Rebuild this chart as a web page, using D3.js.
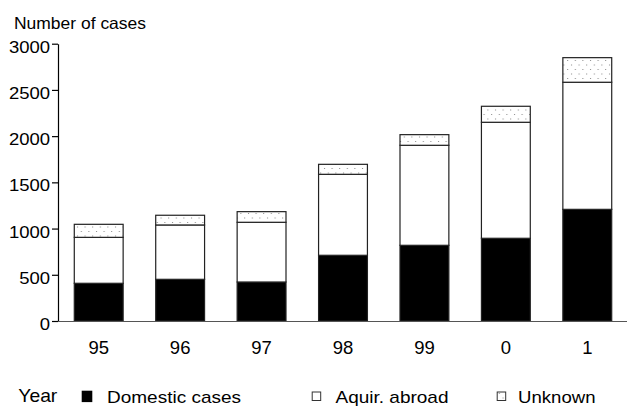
<!DOCTYPE html>
<html><head><meta charset="utf-8">
<script src="https://cdn.jsdelivr.net/npm/d3@7"></script>
<style>body{margin:0;background:#fff}svg{display:block}text{font-family:"Liberation Sans",Arial,sans-serif;fill:#000}</style>
</head><body>
<svg id="chart" width="627" height="407"></svg>
<script>
const years = ["95","96","97","98","99","0","1"];
const domestic = [408, 451, 422, 711, 819, 895, 1208];
const abroad = [497, 588, 646, 876, 1082, 1255, 1375];
const unknown = [141, 105, 115, 108, 115, 173, 266];
const yTicks = [0, 500, 1000, 1500, 2000, 2500, 3000];
const seriesKeys = ["domestic", "abroad", "unknown"];
const seriesNames = ["Domestic cases", "Aquir. abroad", "Unknown"];

const rows = years.map((y, i) => ({year: y, domestic: domestic[i], abroad: abroad[i], unknown: unknown[i]}));
const svg = d3.select("#chart");

const defs = svg.append("defs");
const pat = defs.append("pattern").attr("id", "dots").attr("patternUnits", "userSpaceOnUse")
  .attr("width", 7.6).attr("height", 9);
pat.append("rect").attr("width", 7.6).attr("height", 9).attr("fill", "#fff");
pat.append("rect").attr("x", 1).attr("y", 1.5).attr("width", 1).attr("height", 1).attr("fill", "#888");
pat.append("rect").attr("x", 4.8).attr("y", 6).attr("width", 1).attr("height", 1).attr("fill", "#888");

const fills = {domestic: "#000", abroad: "#fff", unknown: "url(#dots)"};

const x = d3.scaleBand().domain(years).range([58, 628]).paddingInner(0.4).paddingOuter(0.2);
const y = d3.scaleLinear().domain([0, 3000]).range([321, 43.7]);

const stacked = d3.stack().keys(seriesKeys)(rows);

svg.append("g").selectAll("g").data(stacked).join("g")
  .attr("fill", d => fills[d.key])
  .selectAll("rect").data(d => d).join("rect")
  .attr("x", d => x(d.data.year))
  .attr("width", x.bandwidth())
  .attr("y", d => y(d[1]))
  .attr("height", d => y(d[0]) - y(d[1]))
  .attr("stroke", "#222").attr("stroke-width", 1.2);

// x axis
const xa = svg.append("g").attr("transform", "translate(0,321)")
  .call(d3.axisBottom(x).tickSize(0).tickPadding(20));
xa.select(".domain").attr("stroke", "#555").attr("stroke-width", 1.2);
xa.selectAll("text").attr("font-size", 18.5).attr("font-family", "Liberation Sans, Arial, sans-serif").attr("fill", "#000");

// y axis
const ya = svg.append("g").attr("transform", "translate(58,0)")
  .call(d3.axisLeft(y).tickValues(yTicks).tickSize(6).tickSizeOuter(0).tickPadding(2).tickFormat(d3.format("d")));
ya.select(".domain").attr("stroke", "#000").attr("stroke-width", 1.2);
ya.selectAll(".tick line").attr("stroke", "#000").attr("stroke-width", 1.2);
ya.selectAll("text").attr("font-size", 16.5).attr("font-family", "Liberation Sans, Arial, sans-serif")
  .attr("fill", "#000").attr("dy", "0.52em")
  .each(function(){ const w = this.getComputedTextLength(); d3.select(this).attr("textLength", w*1.12).attr("lengthAdjust","spacingAndGlyphs"); });

// title
svg.append("text").attr("x", 14).attr("y", 29).attr("font-size", 16.5)
  .attr("textLength", 132).attr("lengthAdjust", "spacingAndGlyphs").text("Number of cases");

// legend
svg.append("text").attr("x", 18.3).attr("y", 401.5).attr("font-size", 18.5)
  .attr("textLength", 39).attr("lengthAdjust", "spacingAndGlyphs").text("Year");

const legendX = [81.7, 311.7, 496.7];
const legendTextX = [107, 335.5, 518];
const legendTextW = [134, 113, 77.5];
const leg = svg.append("g");
seriesKeys.forEach((k, i) => {
  if (k === "domestic") {
    leg.append("rect").attr("x", legendX[i]).attr("y", 390.7).attr("width", 10.6).attr("height", 11.4).attr("fill", "#000");
  } else {
    leg.append("rect").attr("x", legendX[i] + 0.5).attr("y", 392).attr("width", 8.5).attr("height", 8.5)
      .attr("fill", k === "unknown" ? "url(#dots)" : "#fff").attr("stroke", "#333").attr("stroke-width", 1);
  }
  leg.append("text").attr("x", legendTextX[i]).attr("y", 403).attr("font-size", 17)
    .attr("textLength", legendTextW[i]).attr("lengthAdjust", "spacingAndGlyphs").text(seriesNames[i]);
});
</script>
</body></html>
